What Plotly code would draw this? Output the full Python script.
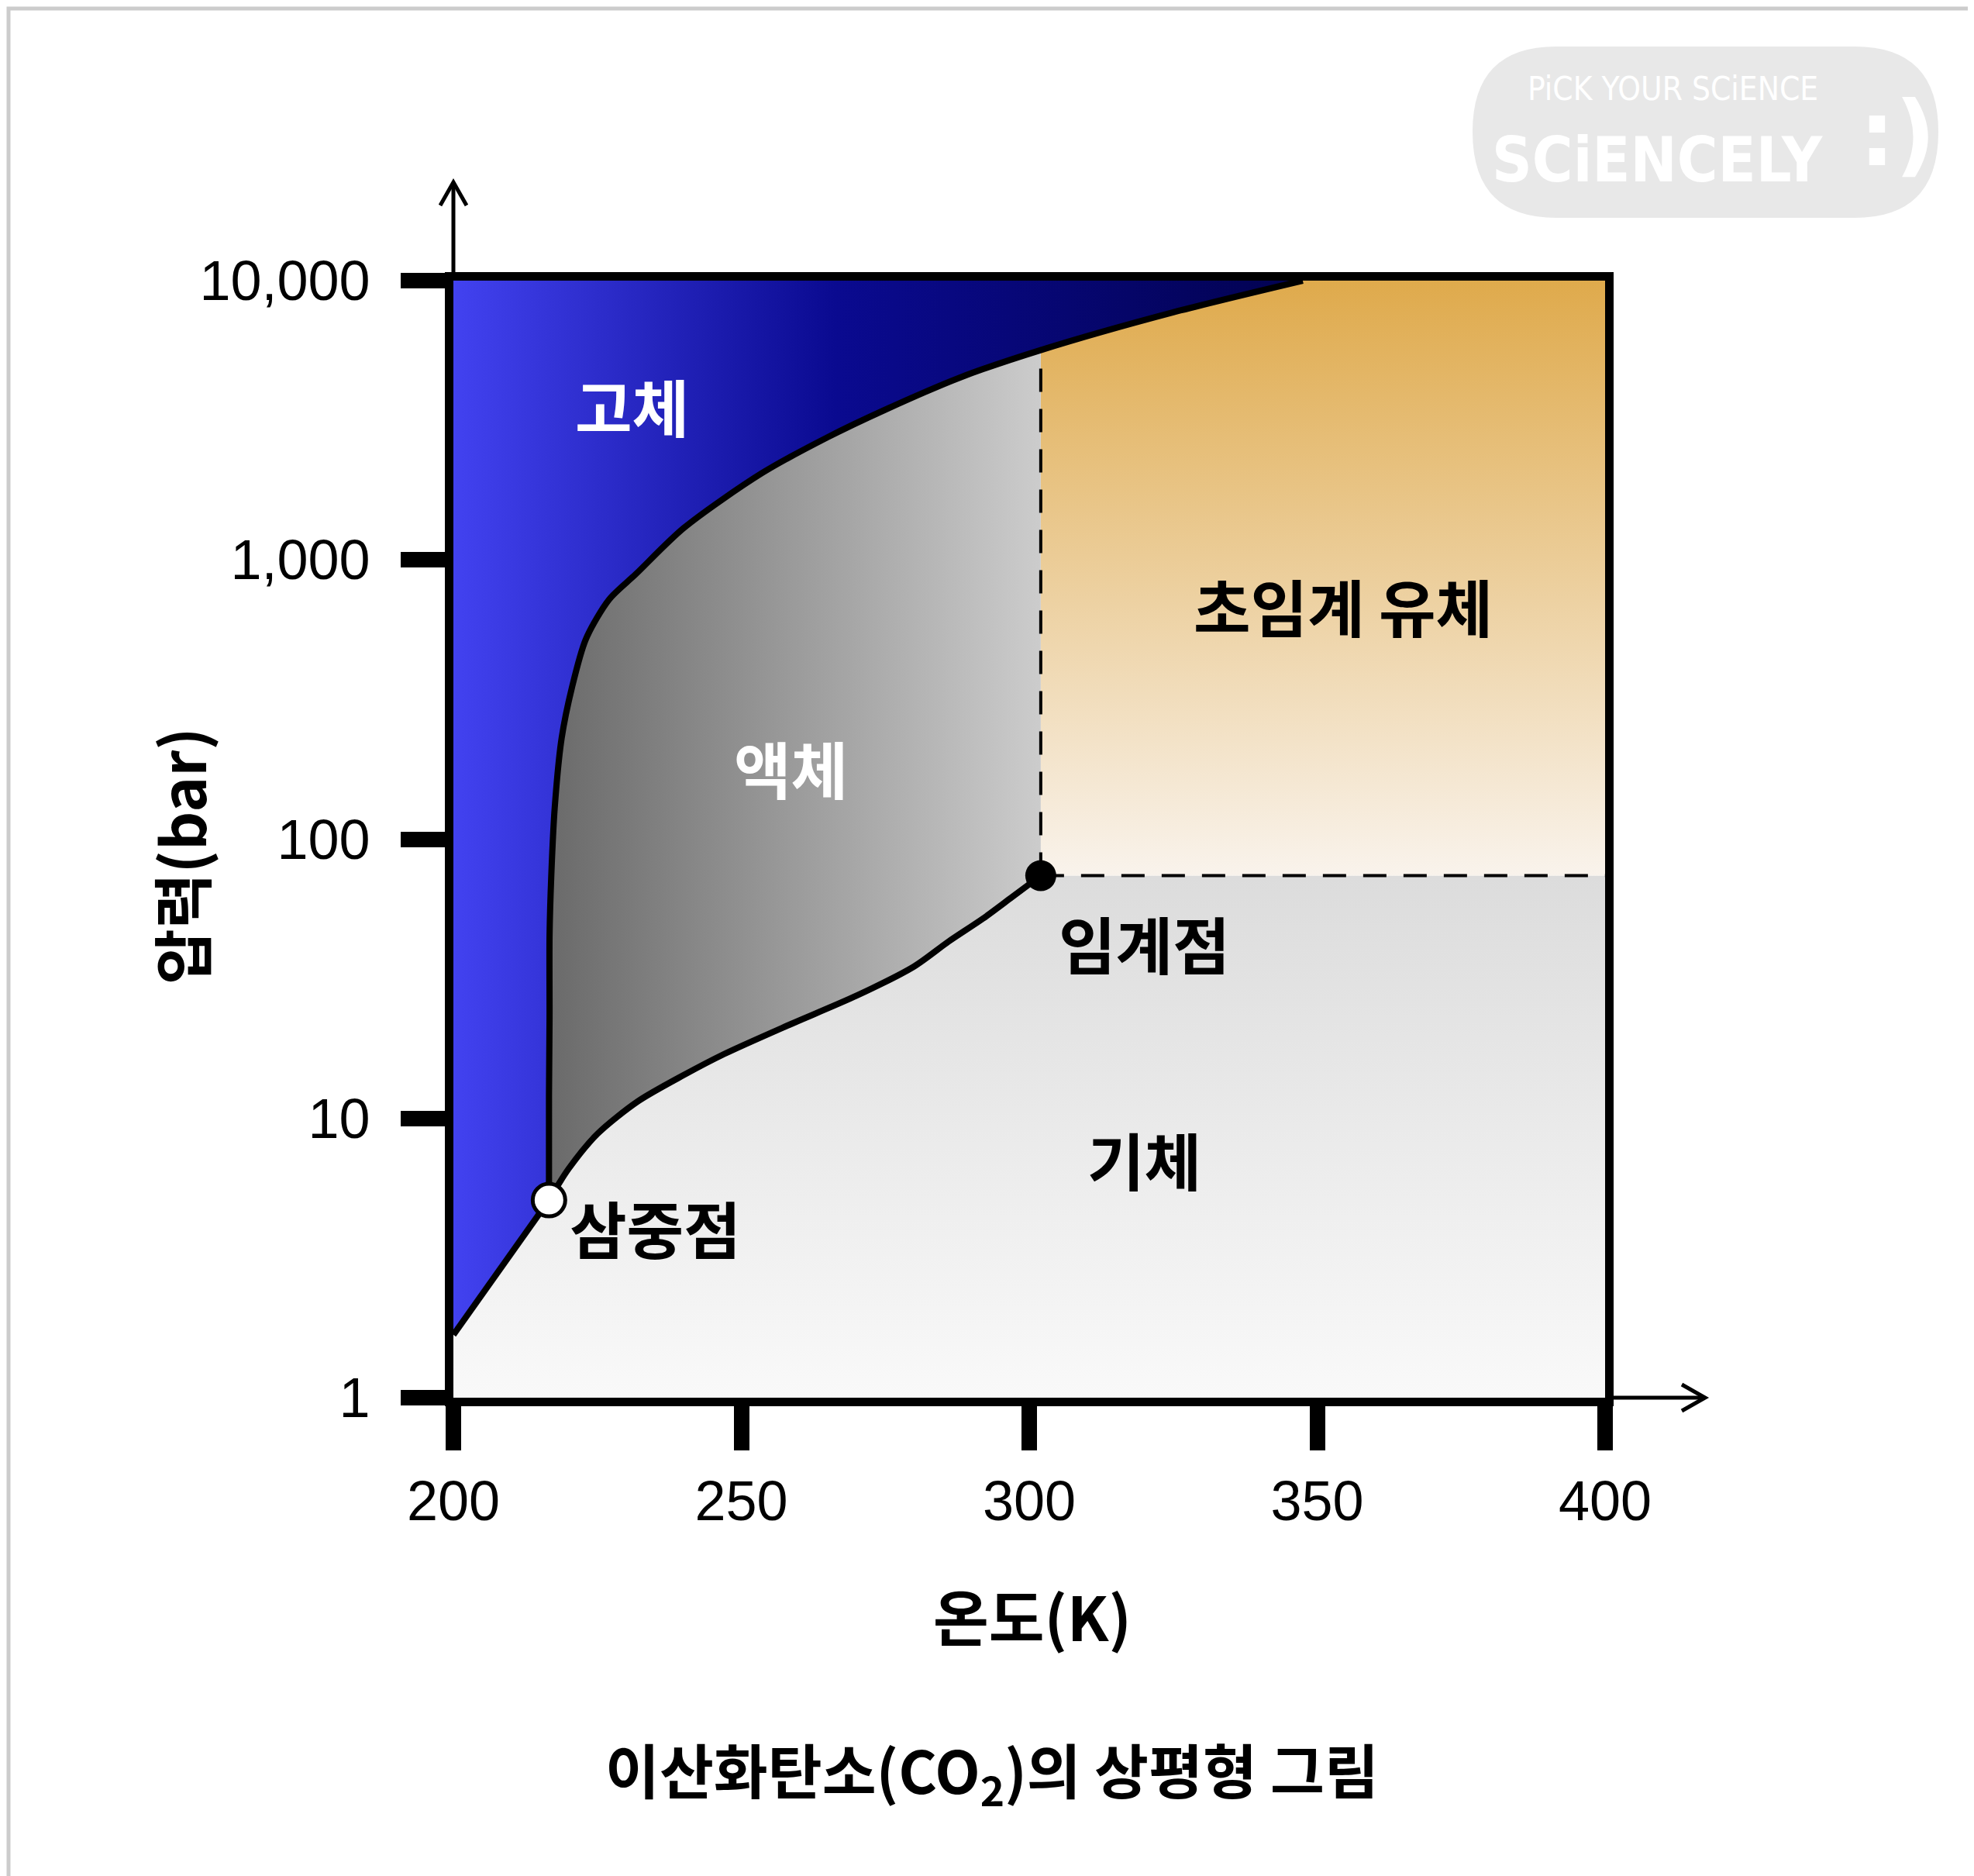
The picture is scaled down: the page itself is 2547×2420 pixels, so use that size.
import plotly.graph_objects as go
import math

W, H = 2547, 2420
L, R, T, B = 577, 2063, 354, 1795

# data
triple = (216.6, 5.1)
critical = (302.0, 74.0)
sub_T = [200.0, 216.6]
sub_P = [1.68, 5.1]
vap_T = [216.6, 220.0, 225.0, 232.0, 240.0, 247.0, 258.0, 270.0, 280.0, 286.0, 292.0, 297.0, 302.0]
vap_P = [5.1, 6.6, 8.8, 11.5, 14.3, 17.0, 21.5, 27.5, 35.0, 43.0, 52.0, 62.0, 74.0]
mel_T = [216.6, 216.6, 216.7, 216.7, 217.0, 217.6, 218.8, 220.6, 223.0, 227.0, 231.7, 240.0, 253.5, 265.0, 275.0, 288.0, 302.0, 325.0, 347.5]
mel_P = [5.1, 12.0, 23.0, 45.0, 74.0, 130.0, 230.0, 350.0, 520.0, 720.0, 890.0, 1300.0, 2040.0, 2750.0, 3450.0, 4500.0, 5640.0, 7700.0, 10000.0]
x_ticks = [200, 250, 300, 350, 400]
y_ticks = [1, 10, 100, 1000, 10000]
y_labels = ["1", "10", "100", "1,000", "10,000"]

KR = "Noto Sans CJK KR"
fig = go.Figure()

def px(x): return (x - L) / (R - L)
def py(y): return (B - y) / (B - T)

gas_T = [200, 200] + vap_T + [400, 400]
gas_P = [1, sub_P[0]] + vap_P + [critical[1], 1]
fig.add_trace(go.Scatter(x=gas_T, y=gas_P, fill="toself", mode="none",
    fillgradient=dict(type="vertical", colorscale=[[0, "#f9f9f9"], [1, "#dcdcdc"]])))
idx = mel_T.index(302.0)
sc_T = [302.0] + mel_T[idx:] + [400, 400]
sc_P = [74.0] + mel_P[idx:] + [10000, 74.0]
fig.add_trace(go.Scatter(x=sc_T, y=sc_P, fill="toself", mode="none",
    fillgradient=dict(type="vertical", colorscale=[[0, "#f9f3ec"], [1, "#dfaa4c"]])))
liq_T = mel_T[:idx + 1] + vap_T[::-1]
liq_P = mel_P[:idx + 1] + vap_P[::-1]
fig.add_trace(go.Scatter(x=liq_T, y=liq_P, fill="toself", mode="none",
    fillgradient=dict(type="horizontal", colorscale=[[0, "#6a6a6a"], [1, "#cccccc"]])))
sol_T = sub_T + mel_T + [200]
sol_P = sub_P + mel_P + [10000]
fig.add_trace(go.Scatter(x=sol_T, y=sol_P, fill="toself", mode="none",
    fillgradient=dict(type="horizontal", colorscale=[[0, "#4242f0"], [0.45, "#0a0a90"], [1, "#020250"]])))

for xs, ys in [(sub_T, sub_P), (vap_T, vap_P), (mel_T, mel_P)]:
    fig.add_trace(go.Scatter(x=xs, y=ys, mode="lines", line=dict(color="black", width=8, shape="spline", smoothing=0.8)))
fig.add_trace(go.Scatter(x=[302, 302], y=[74, 5640], mode="lines", line=dict(color="black", width=4, dash="30px,22px")))
fig.add_trace(go.Scatter(x=[302, 400], y=[74, 74], mode="lines", line=dict(color="black", width=4, dash="30px,22px")))
fig.add_trace(go.Scatter(x=[critical[0]], y=[critical[1]], mode="markers", marker=dict(color="black", size=40)))
fig.add_trace(go.Scatter(x=[triple[0]], y=[triple[1]], mode="markers", marker=dict(color="white", size=42, line=dict(color="black", width=5))))

labels = [(231, 3600, "고체", "white"), (258.6, 182, "액체", "white"), (354.5, 690, "초임계 유체", "black"),
          (320, 43, "임계점", "black"), (320, 7.2, "기체", "black"), (235, 4.1, "삼중점", "black")]
for x, y, t, c in labels:
    fig.add_annotation(x=x, y=math.log10(y), text=f"<b>{t}</b>", showarrow=False,
                       font=dict(family=KR, size=80, color=c))

def pann(x, y, text, size, family=KR, color="black", angle=0):
    fig.add_annotation(x=px(x), y=py(y), xref="paper", yref="paper", text=text, textangle=angle,
                       xanchor="center", yanchor="middle", showarrow=False,
                       font=dict(family=family, size=size, color=color))

pann(224, 1096, "<b>압력(bar)</b>", 78, angle=-90)
pann(1324, 2075, "<b>온도(K)</b>", 78)
pann(1272, 2277, "<b>이산화탄소(CO<sub>2</sub>)의 상평형 그림</b>", 76)

# watermark
fig.add_shape(type="path", xref="paper", yref="paper", fillcolor="#e8e8e8", line=dict(width=0), layer="below",
              path=f"M {px(2000)} {py(52)} L {px(2385)} {py(52)} Q {px(2493)} {py(52)} {px(2493)} {py(162)} Q {px(2493)} {py(273)} {px(2385)} {py(273)} L {px(2000)} {py(273)} Q {px(1892)} {py(273)} {px(1892)} {py(162)} Q {px(1892)} {py(52)} {px(2000)} {py(52)} Z")
pann(2150, 106, "PiCK YOUR SCiENCE", 42, family="DejaVu Sans Condensed", color="white")
pann(2130, 198, "<b>SCiENCELY</b>", 80, family="DejaVu Sans Condensed", color="white")
pann(2440, 165, "<b>:)</b>", 115, family="DejaVu Sans", color="white")

fig.add_shape(type="rect", xref="paper", yref="paper", x0=px(3), x1=px(W - 3), y0=py(3), y1=py(H - 3),
              line=dict(color="#cccccc", width=5))
lw = 5
fig.add_shape(type="line", xref="paper", yref="paper", x0=0, x1=0, y0=1, y1=py(227), line=dict(color="black", width=lw))
fig.add_shape(type="path", xref="paper", yref="paper", line=dict(color="black", width=lw),
              path=f"M {px(L-17)} {py(257)} L {px(L)} {py(227)} L {px(L+17)} {py(257)}")
fig.add_shape(type="line", xref="paper", yref="paper", x0=1, x1=px(2192), y0=0, y1=0, line=dict(color="black", width=lw))
fig.add_shape(type="path", xref="paper", yref="paper", line=dict(color="black", width=lw),
              path=f"M {px(2162)} {py(B-17)} L {px(2192)} {py(B)} L {px(2162)} {py(B+17)}")

fig.update_layout(width=W, height=H, margin=dict(l=L, r=W - R, t=T, b=H - B), showlegend=False,
                  paper_bgcolor="white", plot_bgcolor="white")
fig.update_xaxes(range=[200, 400], tickvals=x_ticks, ticks="outside", ticklen=57, tickwidth=20, tickcolor="black",
                 showline=True, linewidth=11, linecolor="black", mirror=True, showgrid=False, zeroline=False,
                 tickfont=dict(family="Liberation Sans", size=72, color="black"), ticklabelstandoff=4)
fig.update_yaxes(type="log", range=[0, 4], tickvals=y_ticks, ticktext=y_labels, ticks="outside", ticklen=57, tickwidth=20,
                 tickcolor="black", showline=True, linewidth=11, linecolor="black", mirror=True, showgrid=False,
                 zeroline=False, tickfont=dict(family="Liberation Sans", size=72, color="black"), ticklabelstandoff=25)
fig.write_html("out.html")
